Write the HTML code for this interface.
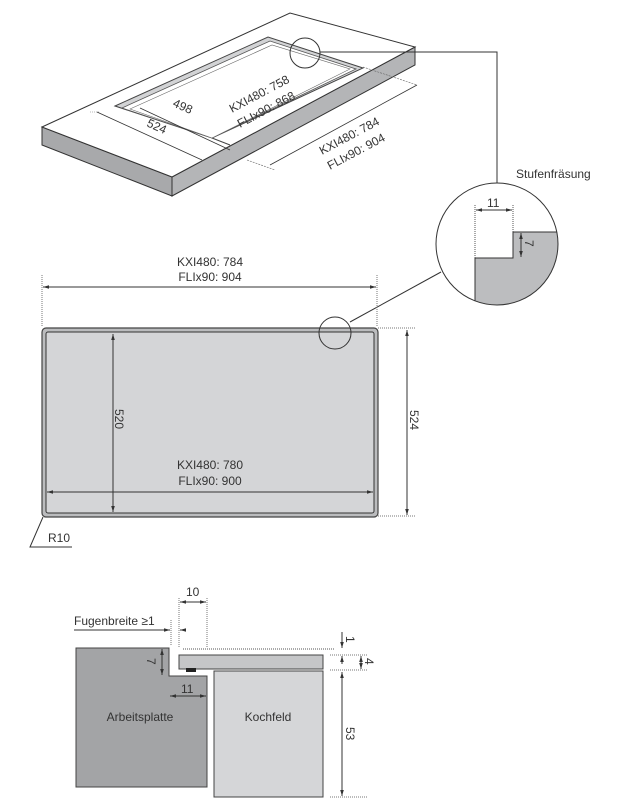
<!DOCTYPE html>
<html><head><style>
html,body{margin:0;padding:0;background:#fff;}
svg{display:block;font-family:"Liberation Sans",sans-serif;}
text{fill:#333;font-size:12px;}
</style></head><body>
<svg width="640" height="806" viewBox="0 0 640 806" xmlns="http://www.w3.org/2000/svg">
<defs>
<clipPath id="bc"><circle cx="497" cy="244" r="61"/></clipPath>
<marker id="a" viewBox="0 0 10 10" refX="10" refY="5" markerWidth="6" markerHeight="6" orient="auto-start-reverse"><path d="M0,2 L10,5 L0,8z" fill="#333"/></marker>
</defs>
<!-- isometric slab -->
<polygon points="42,127 172,177 172,196 42,145" fill="#a8a9ab" stroke="#333" stroke-width="1"/>
<polygon points="172,177 415,47 415,65 172,196" fill="#b4b5b7" stroke="#333" stroke-width="1"/>
<polygon points="42,127 290,13 415,47 172,177" fill="#fff" stroke="#333" stroke-width="1"/>
<polygon points="115,106 268,37 363,68 212,138" fill="#d2d3d5" stroke="#444" stroke-width="1"/>
<polygon points="122,108 270,41 356,69 212,138" fill="#fff" stroke="#555" stroke-width="0.8"/>
<polygon points="130,109 272,45 350,69 212,138" fill="#fff" stroke="#666" stroke-width="0.6"/>
<line x1="212" y1="138" x2="230" y2="145" stroke="#444"/>
<line x1="97" y1="112" x2="202" y2="160" stroke="#333" stroke-width="0.8"/>
<line x1="90" y1="112" x2="100" y2="112" stroke="#777" stroke-width="0.6" stroke-dasharray="1,1"/>
<line x1="140" y1="108" x2="230" y2="150" stroke="#333" stroke-width="0.8"/>
<line x1="270" y1="165" x2="417" y2="85" stroke="#333" stroke-width="0.8"/>
<line x1="363" y1="67" x2="417" y2="85" stroke="#666" stroke-width="0.6" stroke-dasharray="2,1"/>
<line x1="247" y1="160" x2="275" y2="170" stroke="#666" stroke-width="0.6" stroke-dasharray="2,1"/>
<text transform="translate(172,106) rotate(24)" font-size="13">498</text>
<text transform="translate(146,126) rotate(24)" font-size="13">524</text>
<text transform="translate(232,113) rotate(-28)" font-size="13">KXI480: 758</text>
<text transform="translate(240,128) rotate(-28)" font-size="13">FLIx90: 868</text>
<text transform="translate(322,155) rotate(-28)" font-size="13">KXI480: 784</text>
<text transform="translate(330,170) rotate(-28)" font-size="13">FLIx90: 904</text>
<circle cx="305" cy="53" r="15" fill="none" stroke="#333"/>
<polyline points="320,52 497,52 497,183" fill="none" stroke="#333"/>
<!-- detail circle -->
<text x="516" y="178">Stufenfräsung</text>
<g clip-path="url(#bc)">
<polygon points="475,258 513,258 513,232 560,232 560,310 475,310" fill="#bcbdbf" stroke="#333"/>
</g>
<circle cx="497" cy="244" r="61" fill="none" stroke="#333"/>
<line x1="475" y1="205" x2="475" y2="258" stroke="#555" stroke-dasharray="1,1"/>
<line x1="513" y1="205" x2="513" y2="232" stroke="#555" stroke-dasharray="1,1"/>
<line x1="476" y1="210" x2="512" y2="210" stroke="#333" marker-start="url(#a)" marker-end="url(#a)"/>
<text x="487" y="207">11</text>
<line x1="521" y1="233" x2="521" y2="257" stroke="#333" marker-start="url(#a)" marker-end="url(#a)"/>
<text transform="translate(525,240) rotate(90)" font-size="11">7</text>
<line x1="441" y1="272" x2="350" y2="322" stroke="#333"/>
<!-- plan view -->
<line x1="42" y1="275" x2="42" y2="327" stroke="#777" stroke-dasharray="1,1"/>
<line x1="377" y1="275" x2="377" y2="327" stroke="#777" stroke-dasharray="1,1"/>
<line x1="43" y1="287" x2="376" y2="287" stroke="#333" marker-start="url(#a)" marker-end="url(#a)"/>
<text x="210" y="266" text-anchor="middle">KXI480: 784</text>
<text x="210" y="281" text-anchor="middle">FLIx90: 904</text>
<rect x="42" y="328" width="336" height="189" rx="4" fill="#bbbcbe" stroke="#444" stroke-width="1.2"/>
<rect x="46" y="332" width="328" height="181" rx="2" fill="#d4d5d7" stroke="#333"/>
<line x1="113" y1="334" x2="113" y2="512" stroke="#333" marker-start="url(#a)" marker-end="url(#a)"/>
<text transform="translate(115,409) rotate(90)">520</text>
<line x1="47" y1="492" x2="373" y2="492" stroke="#333" marker-start="url(#a)" marker-end="url(#a)"/>
<text x="210" y="469" text-anchor="middle">KXI480: 780</text>
<text x="210" y="485" text-anchor="middle">FLIx90: 900</text>
<circle cx="335" cy="333" r="16" fill="none" stroke="#333"/>
<line x1="378" y1="328" x2="416" y2="328" stroke="#777" stroke-dasharray="1,1"/>
<line x1="378" y1="516" x2="416" y2="516" stroke="#777" stroke-dasharray="1,1"/>
<line x1="407" y1="330" x2="407" y2="515" stroke="#333" marker-start="url(#a)" marker-end="url(#a)"/>
<text transform="translate(410,410) rotate(90)">524</text>
<polyline points="43,517 30,547 72,547" fill="none" stroke="#333"/>
<text x="48" y="542">R10</text>
<!-- section -->
<polygon points="76,648 169,648 169,676 207,676 207,787 76,787" fill="#a3a4a6" stroke="#444"/>
<rect x="214" y="671" width="109" height="126" fill="#d5d6d8" stroke="#444"/>
<rect x="179" y="655" width="144" height="14" fill="#c5c6c8" stroke="#444"/>
<rect x="186" y="668" width="10" height="4" fill="#222"/>
<text x="140" y="721" text-anchor="middle">Arbeitsplatte</text>
<text x="268" y="721" text-anchor="middle">Kochfeld</text>
<line x1="179" y1="598" x2="179" y2="648" stroke="#777" stroke-dasharray="1,1"/>
<line x1="207" y1="598" x2="207" y2="648" stroke="#777" stroke-dasharray="1,1"/>
<line x1="171" y1="620" x2="171" y2="646" stroke="#777" stroke-dasharray="1,1"/>
<line x1="180" y1="602" x2="206" y2="602" stroke="#333" marker-start="url(#a)" marker-end="url(#a)"/>
<text x="186" y="596">10</text>
<text x="74" y="625">Fugenbreite ≥1</text>
<line x1="74" y1="630" x2="170" y2="630" stroke="#333" marker-end="url(#a)"/>
<line x1="186" y1="630" x2="180" y2="630" stroke="#333" marker-end="url(#a)"/>
<line x1="162" y1="649" x2="162" y2="675" stroke="#333" marker-start="url(#a)" marker-end="url(#a)"/>
<text transform="translate(147,658) rotate(90)">7</text>
<line x1="170" y1="696" x2="206" y2="696" stroke="#333" marker-start="url(#a)" marker-end="url(#a)"/>
<text x="181" y="693">11</text>
<line x1="183" y1="649" x2="335" y2="649" stroke="#555" stroke-dasharray="1,1"/>
<line x1="330" y1="655" x2="368" y2="655" stroke="#777" stroke-dasharray="1,1"/>
<line x1="330" y1="670" x2="368" y2="670" stroke="#777" stroke-dasharray="1,1"/>
<line x1="330" y1="797" x2="368" y2="797" stroke="#777" stroke-dasharray="1,1"/>
<line x1="342" y1="632" x2="342" y2="648" stroke="#333" marker-end="url(#a)"/>
<line x1="342" y1="664" x2="342" y2="656" stroke="#333" marker-end="url(#a)"/>
<text transform="translate(346,636) rotate(90)" font-size="11">1</text>
<line x1="361" y1="656" x2="361" y2="669" stroke="#333" marker-start="url(#a)" marker-end="url(#a)"/>
<text transform="translate(365,658) rotate(90)" font-size="11">4</text>
<line x1="342" y1="672" x2="342" y2="796" stroke="#333" marker-start="url(#a)" marker-end="url(#a)"/>
<text transform="translate(346,727) rotate(90)">53</text>
</svg>
</body></html>
